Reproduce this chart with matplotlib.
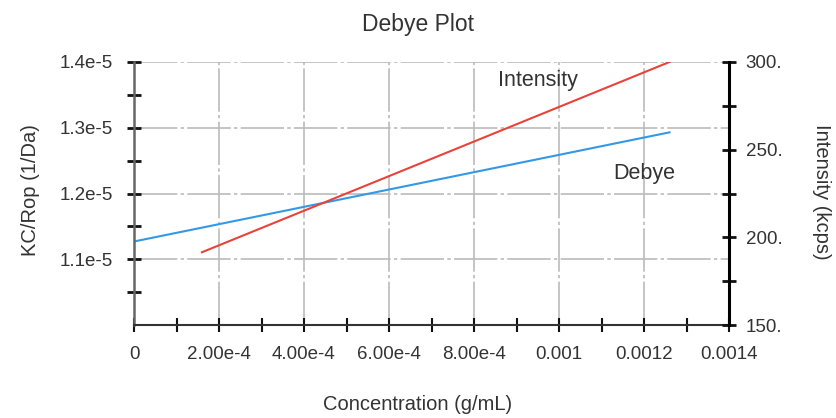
import matplotlib
matplotlib.use("Agg")
import matplotlib.pyplot as plt
from matplotlib.ticker import FixedLocator, MultipleLocator

plt.rcParams["font.family"] = ["Liberation Sans", "DejaVu Sans"]

# ---------------------------
# Data
# ---------------------------
debye_conc = [0.0, 0.00126]
debye_kc = [1.127e-5, 1.293e-5]

intensity_conc = [0.00016, 0.00126]
intensity_kcps = [191.5, 300.0]

x_ticks = [0, 2e-4, 4e-4, 6e-4, 8e-4, 0.001, 0.0012, 0.0014]
x_labels = ["0", "2.00e-4", "4.00e-4", "6.00e-4", "8.00e-4", "0.001", "0.0012", "0.0014"]
y_ticks = [1.1e-5, 1.2e-5, 1.3e-5, 1.4e-5]
y_labels = ["1.1e-5", "1.2e-5", "1.3e-5", "1.4e-5"]
r_ticks = [150, 200, 250, 300]
r_labels = ["150.", "200.", "250.", "300."]

# ---------------------------
# Plot
# ---------------------------
fig = plt.figure(figsize=(8.36, 4.18), dpi=100)
ax = fig.add_axes([134 / 836, 1 - 325 / 418, (729 - 134) / 836, (325 - 62) / 418])
ax2 = ax.twinx()

ax.plot(debye_conc, debye_kc, color="#3399e6", lw=1.5)
ax2.plot(intensity_conc, intensity_kcps, color="#e8433a", lw=1.5)

ax.set_xlim(0, 0.0014)
ax.set_ylim(1.0e-5, 1.4e-5)
ax2.set_ylim(150, 300)

ax.set_xticks(x_ticks)
ax.set_xticklabels(x_labels)
ax.xaxis.set_minor_locator(MultipleLocator(1e-4))
ax.set_yticks(y_ticks)
ax.set_yticklabels(y_labels)
ax.yaxis.set_minor_locator(FixedLocator([1.05e-5, 1.15e-5, 1.25e-5, 1.35e-5]))
ax2.set_yticks(r_ticks)
ax2.set_yticklabels(r_labels)
ax2.yaxis.set_minor_locator(MultipleLocator(25))

grid_style = dict(color="#bbbbbb", lw=1.2, ls=(0, (26, 2, 2, 2)))
for xv in x_ticks[1:-1]:
    ax.axvline(xv, zorder=0, **grid_style)
for yv in y_ticks:
    ax.axhline(yv, zorder=0, **grid_style)

for a in (ax, ax2):
    a.spines["top"].set_visible(False)
ax.spines["right"].set_visible(False)
ax.spines["left"].set_color("#666666")
ax.spines["left"].set_linewidth(1.8)
ax.spines["bottom"].set_color("#333333")
ax.spines["bottom"].set_linewidth(1.5)
ax2.spines["left"].set_visible(False)
ax2.spines["bottom"].set_visible(False)
ax2.spines["right"].set_color("black")
ax2.spines["right"].set_linewidth(2.2)

ax.tick_params(axis="x", which="both", direction="inout", length=10, width=1.5,
               color="#111111", labelsize=13.5, pad=10, labelcolor="#333333")
ax.tick_params(axis="y", which="both", direction="inout", length=10, width=2,
               color="#111111", labelsize=13.5, pad=10, labelcolor="#333333")
ax2.tick_params(axis="y", which="both", direction="inout", length=10, width=2,
                color="#111111", labelsize=13.5, pad=7, labelcolor="#333333")

label_style = dict(fontsize=14.5, color="#333333", ha="center", va="center")
fig.text(418 / 836, 1 - 405 / 418, "Concentration (g/mL)", **label_style)
fig.text(30 / 836, 1 - 190 / 418, "KC/Rop (1/Da)", rotation=90, **label_style)
fig.text(821 / 836, 1 - 192 / 418, "Intensity (kcps)", rotation=-90, **label_style)
fig.text(418 / 836, 1 - 25 / 418, "Debye Plot", **dict(label_style, fontsize=16.5))

ax.text(0.00095, 1.372e-5, "Intensity", fontsize=15.5, color="#333333", ha="center", va="center")
ax.text(0.00120, 1.231e-5, "Debye", fontsize=15.5, color="#333333", ha="center", va="center")

plt.savefig("out.png", dpi=100)
